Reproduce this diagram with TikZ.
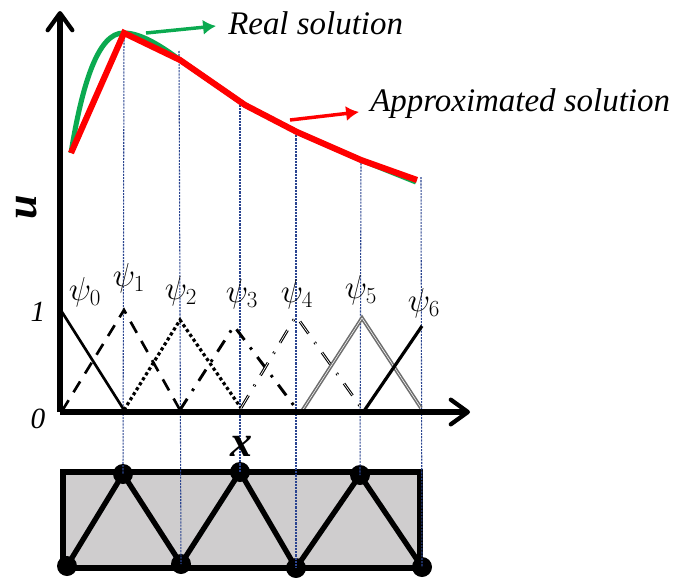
\documentclass[tikz,border=0pt]{standalone}
\usepackage{fontspec}
\setmainfont{Liberation Serif}
\usepackage{xcolor}
\usetikzlibrary{arrows.meta, positioning}
\definecolor{vertsol}{HTML}{0BAA50}
\definecolor{rougesol}{HTML}{FF0000}
\definecolor{guide}{HTML}{2A4490}
\definecolor{fondmesh}{HTML}{CFCDCE}
\definecolor{grisbase}{HTML}{6E6E6E}
\tikzset{
  axe/.style={-{Straight Barb[length=4.5mm,width=6.5mm,line width=3.2pt,round]}, line width=4.2pt, color=black},
  base/.style={line width=2pt, color=black},
  pic/.style={inner sep=0pt, font=\fontsize{25}{25}\selectfont},
  legende/.style={inner sep=0pt, anchor=west, font=\fontsize{24.7}{25}\selectfont\itshape},
  chiffre/.style={inner sep=0pt, font=\fontsize{22}{22}\selectfont\itshape},
  titre/.style={inner sep=0pt, font=\fontsize{33}{33}\selectfont\bfseries\itshape},
  noeud/.style={circle, fill=black, inner sep=0pt, minimum size=15pt},
  maille/.style={line width=4pt, color=black},
  repere/.style={dash pattern=on 1.6pt off 0.8pt, line width=0.8pt, color=guide},
  fleche/.style={-{Latex[length=3.4mm,width=4mm]}, line width=2.6pt},
}
\begin{document}
\begin{tikzpicture}[x=0.75pt, y=-0.75pt]
  \useasboundingbox (0,0) rectangle (675,578);

  % origine et axes
  \coordinate (orig) at (60,412);
  \coordinate (hauty) at (60,11);
  \coordinate (finx) at (470,412);

  % points de la solution
  \coordinate (s0) at (71,153);
  \coordinate (s1) at (124,33);
  \coordinate (s2) at (180,60);
  \coordinate (s3) at (245,105);
  \coordinate (s4) at (297,132);
  \coordinate (s5) at (361,160);
  \coordinate (s6) at (417,180);

  % haut des reperes
  \coordinate (r1) at (124,33);
  \coordinate (r2) at (179,51);
  \coordinate (r3) at (240,105);
  \coordinate (r4) at (296,132);
  \coordinate (r5) at (361,160);
  \coordinate (r6) at (421,177);

  % maille
  \coordinate (ca) at (63,472);
  \coordinate (cb) at (420,472);
  \coordinate (cc) at (420,568);
  \coordinate (cd) at (63,568);
  \fill[fondmesh] (ca) -- (cb) -- (cc) -- (cd) -- cycle;
  \node[noeud] (n1) at (123,474) {};
  \node[noeud] (n3) at (240,472) {};
  \node[noeud] (n5) at (360,475) {};
  \node[noeud] (n0) at (67,566) {};
  \node[noeud] (n2) at (181,564) {};
  \node[noeud] (n4) at (296,568) {};
  \node[noeud] (n6) at (422,567) {};
  \draw[maille] (ca) -- (cb) -- (cc) -- (cd) -- cycle;
  \draw[maille] (n0.center) -- (n1.center) -- (n2.center) -- (n3.center) -- (n4.center) -- (n5.center) -- (n6.center);

  \foreach \haut/\bas in {r1/n1, r2/n2, r3/n3, r4/n4, r5/n5, r6/n6}
    \draw[repere] (\haut) -- (\bas.center);

  % fonctions de base
  \coordinate (p0) at (62,312);
  \coordinate (p1) at (124,310);
  \coordinate (p2) at (180,320);
  \coordinate (p3) at (234,326);
  \coordinate (p4) at (296,316);
  \coordinate (p5) at (362,318);
  \coordinate (p6) at (422,326);
  \coordinate (z0) at (62,411);
  \coordinate (z1) at (124,410);
  \coordinate (z2) at (180,410);
  \coordinate (z3) at (241,408);
  \coordinate (z4) at (298,411);
  \coordinate (z4b) at (302,411);
  \coordinate (z5) at (360,406);
  \coordinate (z5b) at (364,411);
  \coordinate (z6) at (421,408);

  \draw[base] (p0) -- (z1);
  \draw[base, dash pattern=on 9.5pt off 7pt] (z0) -- (p1) -- (z2);
  \draw[base, line width=2.4pt, dotted] (z1) -- (p2) -- (z3);
  \draw[base, line width=2.2pt, dash pattern=on 10pt off 7pt on 2pt off 7pt] (z2) -- (p3) -- (z4);
  \draw[line width=0.8pt, color=black, double=white, double distance=0.5pt, dash pattern=on 11pt off 8pt on 1.5pt off 8pt] (z3) -- (p4) -- (z5);
  \draw[line width=1.2pt, color=grisbase, double=white, double distance=0.4pt] (z4b) -- (p5) -- (z6);
  \draw[base, line width=2.4pt] (z5b) -- (p6);

  % courbes
  \draw[line width=3.8pt, color=vertsol] (s0) .. controls (82,85) and (98,32) .. (s1)
    .. controls (140,33) and (160,45) .. (s2) -- (s3) -- (s4) -- (s5) -- (416,182);
  \draw[line width=4.6pt, color=rougesol] (s0) -- (s1) -- (s2) -- (s3) -- (s4) -- (s5) -- (s6);

  \draw[axe] (orig) -- (hauty);
  \draw[axe] (orig) -- (finx);

  % legendes
  \node[legende] (reel) at (228,23) {Real solution};
  \node[legende] (appro) at (370,104) {Approximated solution};
  \coordinate (dr) at (146,33);
  \coordinate (fr) at (216,26);
  \coordinate (da) at (290,120);
  \coordinate (fa) at (359,112);
  \draw[fleche, color=vertsol] (dr) -- (fr);
  \draw[fleche, color=rougesol] (da) -- (fa);

  \node[titre, rotate=90] (nomu) at (27,207) {u};
  \node[titre] (nomx) at (241,446) {x};
  \node[chiffre] (un) at (38,312) {1};
  \node[chiffre] (zero) at (38,419) {0};

  \node[pic] (psi0) at (85,292) {$\psi_0$};
  \node[pic] (psi1) at (129,278) {$\psi_1$};
  \node[pic] (psi2) at (181,291) {$\psi_2$};
  \node[pic] (psi3) at (242,294) {$\psi_3$};
  \node[pic] (psi4) at (297,294) {$\psi_4$};
  \node[pic] (psi5) at (361,290) {$\psi_5$};
  \node[pic] (psi6) at (424,303) {$\psi_6$};
\end{tikzpicture}
\end{document}
